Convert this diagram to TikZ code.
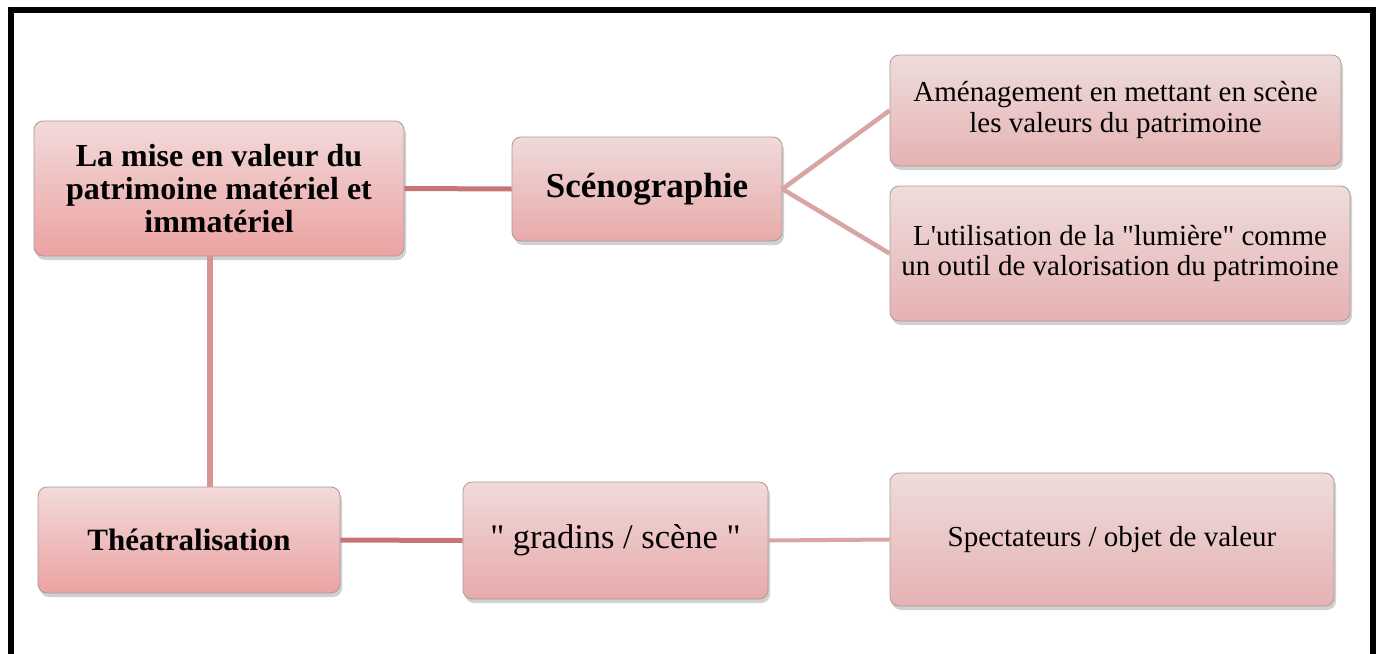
\documentclass[tikz,border=0pt]{standalone}
\usepackage{fontspec}
\setmainfont{Liberation Serif}[Ligatures=TeXOff]
\usetikzlibrary{shadows}
\definecolor{frameblack}{HTML}{000000}
\definecolor{boxedge}{HTML}{A89A9A}
\definecolor{topA}{HTML}{F2DADA}
\definecolor{botA}{HTML}{ECA2A2}
\definecolor{topB}{HTML}{F0DADA}
\definecolor{botB}{HTML}{E8AAAA}
\definecolor{topC}{HTML}{EEDCDC}
\definecolor{botC}{HTML}{E6B2B2}
\definecolor{lineDark}{HTML}{C87474}
\definecolor{lineMid}{HTML}{D89494}
\definecolor{lineLight}{HTML}{D9A4A4}
\tikzset{
  box/.style={draw=boxedge, line width=0.8pt, rounded corners=9pt, inner sep=0pt,
    align=center, top color=topB, bottom color=botB,
    drop shadow={shadow xshift=2pt, shadow yshift=-4pt, opacity=0.3, fill=black!60}},
  boxA/.style={box, top color=topA, bottom color=botA},
  boxC/.style={box, top color=topC, bottom color=botC},
  conn/.style={line width=5pt},
  titlefont/.style={font=\fontsize{32}{33}\selectfont\bfseries},
  bodyfont/.style={font=\fontsize{29}{31}\selectfont},
}
\begin{document}
\begin{tikzpicture}[x=1pt,y=-1pt]
\useasboundingbox (0,0) rectangle (1380,653);
\begin{scope}
\clip (0,0) rectangle (1380,653);
\draw[frameblack, line width=6pt] (11,680) -- (11,10) -- (1373,10) -- (1373,680);
\end{scope}

\node[boxA, titlefont, minimum width=370pt, minimum height=135pt] (A) at (219,188.5)
  {La mise en valeur du\\patrimoine matériel et\\immatériel};
\node[box, font=\fontsize{35}{36}\selectfont\bfseries, minimum width=270pt, minimum height=104pt] (B) at (647,189)
  {Scénographie};
\node[boxC, bodyfont, minimum width=451pt, minimum height=111pt] (C) at (1115.5,110.5)
  {Aménagement en mettant en scène\\les valeurs du patrimoine};
\node[boxC, bodyfont, minimum width=460pt, minimum height=135pt] (D) at (1120,253.5)
  {L'utilisation de la "lumière" comme\\un outil de valorisation du patrimoine};
\node[boxA, font=\fontsize{31}{32}\selectfont\bfseries, minimum width=302pt, minimum height=106pt] (E) at (189,540)
  {Théatralisation};
\node[box, font=\fontsize{34.5}{35}\selectfont, minimum width=305pt, minimum height=117pt] (F) at (615.5,540.5)
  {" gradins / scène "};
\node[boxC, bodyfont, minimum width=444pt, minimum height=133pt] (G) at (1112,539.5)
  {Spectateurs / objet de valeur};

\draw[conn, lineDark] (A.east) -- (B.west);
\draw[conn, lineLight, line width=4.5pt] (B.east) -- (C.west);
\draw[conn, lineLight, line width=4.5pt] (B.east) -- (D.west);
\draw[conn, lineMid, line width=6pt] ([xshift=-9pt]A.south) -- ([xshift=-9pt]A.south |- E.north);
\draw[conn, lineDark] (E.east) -- (F.west);
\draw[conn, lineLight, line width=4pt] (F.east) -- (G.west);
\end{tikzpicture}
\end{document}
